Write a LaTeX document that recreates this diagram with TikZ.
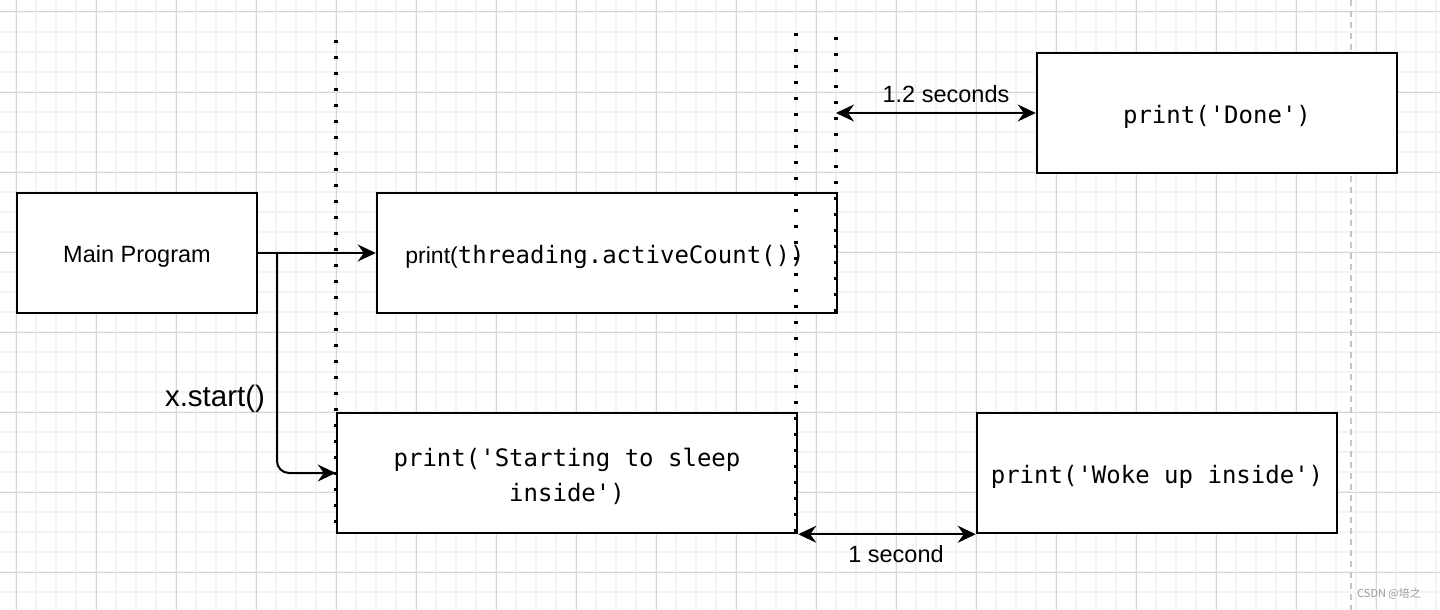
\documentclass[tikz,border=0pt]{standalone}
\usepackage{fontspec}
\setmainfont{Liberation Sans}
\setmonofont{DejaVu Sans Mono}
\newfontfamily\cjkf{Noto Sans CJK SC}
\usetikzlibrary{arrows.meta}
\definecolor{gminor}{HTML}{F3F3F3}
\definecolor{gmajor}{HTML}{D6D6D6}
\definecolor{dashc}{HTML}{C4C4C4}
\definecolor{wm}{HTML}{9A9A9A}
\begin{document}
\begin{tikzpicture}[x=1pt,y=-1pt,
  gridminor/.style={draw=gminor, line width=2pt},
  gridmajor/.style={draw=gmajor, line width=1pt},
  box/.style={draw=black, line width=2.5pt, fill=white, inner sep=0pt, minimum height=120pt},
  wide/.style={box, minimum width=460pt},
  narrow/.style={box, minimum width=360pt},
  lbl/.style={font=\fontsize{23.5}{28}\selectfont, inner sep=0pt, anchor=base},
  code/.style={font=\ttfamily\fontsize{24}{29}\selectfont, inner sep=0pt, anchor=base},
  conn/.style={draw=black, line width=2pt, >={Stealth[length=18pt,width=17pt,inset=6pt]}},
  timeline/.style={draw=black, line width=3.2pt, dash pattern=on 3.2pt off 12.8pt},
  pagedash/.style={draw=dashc, line width=2pt, dash pattern=on 6pt off 5pt},
]
\useasboundingbox (0,0) rectangle (1440,610);
\fill[white] (0,0) rectangle (1440,610);
% grid
\foreach \x in {-4,16,...,1436} \draw[gridminor] (\x,0) -- (\x,610);
\foreach \y in {-8,12,...,612} \draw[gridminor] (0,\y) -- (1440,\y);
\foreach \x in {16,96,...,1376} \draw[gridmajor] (\x,0) -- (\x,610);
\foreach \y in {12,92,...,572} \draw[gridmajor] (0,\y) -- (1440,\y);
% page boundary
\coordinate (pgtop) at (1351,0);
\coordinate (pgbot) at (1351,610);
\draw[pagedash] (pgtop) -- (pgbot);
% boxes
\node[box, minimum width=240pt] (main) at (137,253) {};
\node[wide] (thr) at (607,253) {};
\node[narrow] (done) at (1217,113) {};
\node[wide] (sleep) at (567,473) {};
\node[narrow] (woke) at (1157,473) {};
% timelines
\coordinate (t1top) at (336,40);
\coordinate (t1bot) at (336,533);
\coordinate (t2top) at (796,33);
\coordinate (t2bot) at (796,533);
\coordinate (t3top) at (836,37);
\coordinate (t3bot) at (836,313);
\coordinate (t3mid) at (836,113);
\draw[timeline] (t1top) -- (t1bot);
\draw[timeline] (t2top) -- (t2bot);
\draw[timeline] (t3top) -- (t3bot);
% connectors
\coordinate (split) at (277,253);
\draw[conn,->] (main.east) -- (thr.west);
\draw[conn,->,rounded corners=12pt] (split) |- (sleep.west);
\draw[conn,<->] (t3mid) -- (done.west);
\draw[conn,<->] (sleep.south east) -- (woke.south west);
% texts
\node[lbl] (mainT) at (137,262) {Main Program};
\node[inner sep=0pt, anchor=base] (thrT) at (605,263) {{\fontsize{23}{27}\selectfont print(}{\ttfamily\fontsize{24}{29}\selectfont threading.activeCount())}};
\node[code] (doneT) at (1217,123) {print('Done')};
\node[code] (sleepA) at (567,466) {print('Starting to sleep};
\node[code] (sleepB) at (567,501.5) {inside')};
\node[code] (wokeT) at (1157,483) {print('Woke up inside')};
\node[lbl] (l12) at (946,102) {1.2 seconds};
\node[lbl] (l1) at (896,562) {1 second};
\node[lbl, font=\fontsize{29.5}{34}\selectfont] (xs) at (215,406) {x.start()};
\node[anchor=base west, inner sep=0pt, text=wm, font=\cjkf\fontsize{11}{13}\selectfont] (wmk) at (1357,597) {CSDN @培之};
\end{tikzpicture}
\end{document}
